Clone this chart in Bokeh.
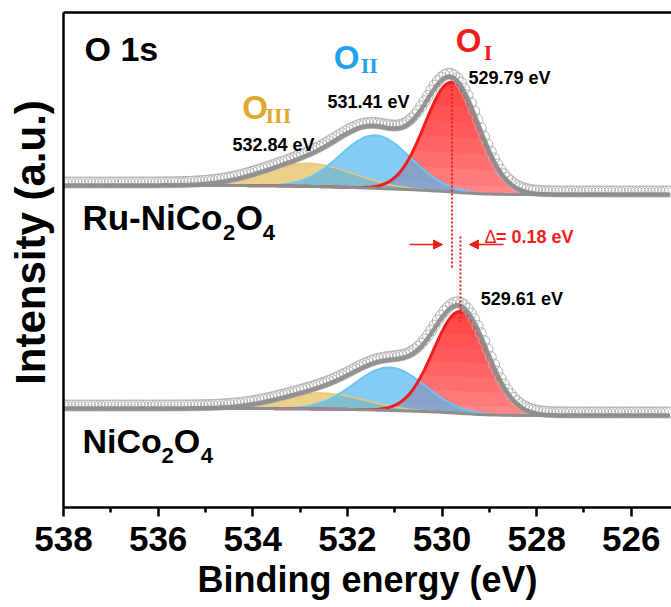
import numpy as np
from bokeh.plotting import figure
from bokeh.models import (Range1d, LinearAxis, FixedTicker, Label, Arrow,
                          NormalHead)
from bokeh.embed import file_html
from bokeh.resources import INLINE

# ---- data -------------------------------------------------------------
# binding-energy grid of the scan (eV)
e_start, e_stop, e_step = 538.0, 525.15, 0.07

# O 1s fitted components: O_I, O_II, O_III
ru_centers = [529.79, 531.41, 532.84]
ru_heights = [110.0, 53.0, 23.0]
ru_sigmas = [0.57, 0.74, 0.95]
ru_background = [322.0, 313.0]      # high-BE side, low-BE side

ni_centers = [529.61, 531.11, 532.55]
ni_heights = [102.0, 43.0, 16.0]
ni_sigmas = [0.57, 0.74, 0.90]
ni_background = [99.0, 92.0]

data_residual = 3.0                 # counts sit slightly above the fitted envelope

tick_values = [538, 536, 534, 532, 530, 528, 526]
minor_values = [537, 535, 533, 531, 529, 527, 525]

energy = np.arange(e_start, e_stop - 1e-9, -e_step)


def fit_curves(centers, heights, sigmas, background):
    comps = [h * np.exp(-(energy - c) ** 2 / (2 * s ** 2))
             for c, h, s in zip(centers, heights, sigmas)]
    total = np.sum(comps, axis=0)
    # Shirley-type step: cumulative area from the low binding-energy side
    area = np.cumsum(total[::-1])[::-1]
    frac = area / area[0]
    bg = background[1] + (background[0] - background[1]) * frac
    return comps, bg, bg + total


FONT = "Liberation Sans"
SERIF = "Liberation Serif"

p = figure(frame_width=608, frame_height=495, x_range=Range1d(538, 525.15),
           y_range=Range1d(0, 495), output_backend="svg",
           toolbar_location=None, min_border_left=63, min_border_right=0,
           min_border_top=12, min_border_bottom=0)
p.grid.visible = False
p.outline_line_color = None
p.background_fill_color = "white"
p.border_fill_color = "white"

RED = "#f21c1c"
BLUE = "#4cb6f0"
GOLD = "#e6bf62"
GREY = "#8e8e8e"


def draw_spectrum(centers, heights, sigmas, background):
    comps, bg, env = fit_curves(centers, heights, sigmas, background)
    red, blue, gold = comps
    # O_I with a vertical shade: light base, darker toward the apex
    p.varea(x=energy, y1=bg, y2=bg + red, fill_color="#ff7a7a", fill_alpha=0.9)
    for lvl in np.linspace(8, max(heights) - 8, 7):
        p.varea(x=energy, y1=bg + np.minimum(red, lvl), y2=bg + red,
                fill_color="#ff0000", fill_alpha=0.09)
    p.varea(x=energy, y1=bg, y2=bg + gold, fill_color=GOLD, fill_alpha=0.75)
    p.varea(x=energy, y1=bg, y2=bg + blue, fill_color=BLUE, fill_alpha=0.68)
    p.line(energy, bg + gold, line_color="#e9c874", line_width=1.5)
    p.line(energy, bg + blue, line_color="#6cc6f5", line_width=2)
    p.line(energy, bg + red, line_color=RED, line_width=3)
    p.scatter(energy, env + data_residual, size=11, marker="circle",
              fill_color=None, line_color="#b2b2b2", line_width=1)
    p.line(energy, env, line_color=GREY, line_width=4.5, line_alpha=0.95)
    p.line(energy, bg, line_color=GREY, line_width=3)


draw_spectrum(ru_centers, ru_heights, ru_sigmas, ru_background)
draw_spectrum(ni_centers, ni_heights, ni_sigmas, ni_background)

# peak-position markers and the shift between them
p.segment(x0=[ru_centers[0], ni_centers[0]], y0=[422, 271],
          x1=[ru_centers[0], ni_centers[0]], y1=[240, 185],
          line_color=RED, line_width=2, line_dash="2 2")
for xs, xe in [(530.685, 529.99), (528.70, 529.42)]:
    p.add_layout(Arrow(end=NormalHead(size=9, fill_color=RED, line_color=RED),
                       x_start=xs, y_start=263, x_end=xe, y_end=263,
                       line_color=RED, line_width=1.5))

# ---- axes -------------------------------------------------------------
xa = p.xaxis[0]
xa.ticker = FixedTicker(ticks=tick_values, minor_ticks=minor_values)
xa.axis_line_width = 2.5
xa.major_tick_line_width = 2.5
xa.minor_tick_line_width = 2.5
xa.major_tick_out = 9
xa.major_tick_in = 0
xa.minor_tick_out = 5
xa.minor_tick_in = 0
xa.major_label_text_font = FONT
xa.major_label_text_font_style = "bold"
xa.major_label_text_font_size = "35px"
xa.major_label_text_color = "black"
xa.major_label_standoff = 10
xa.axis_label = "Binding energy (eV)"
xa.axis_label_text_font = FONT
xa.axis_label_text_font_style = "bold"
xa.axis_label_text_font_size = "36px"
xa.axis_label_text_color = "black"
xa.axis_label_standoff = 5

ya = p.yaxis[0]
ya.ticker = FixedTicker(ticks=[], minor_ticks=[])
ya.axis_line_width = 2.5
ya.major_tick_line_color = None
ya.minor_tick_line_color = None
ya.major_label_text_font_size = "0px"
ya.axis_label = "\u00a0\u00a0\u00a0Intensity (a.u.)"
ya.axis_label_text_font = FONT
ya.axis_label_text_font_style = "bold"
ya.axis_label_text_font_size = "42px"
ya.axis_label_text_color = "black"
ya.axis_label_standoff = 10

top = LinearAxis(ticker=FixedTicker(ticks=[], minor_ticks=[]),
                 axis_line_width=2.5, major_label_text_font_size="0px",
                 major_tick_line_color=None, minor_tick_line_color=None)
p.add_layout(top, "above")


def label(x, y, text, size, color="black", font=FONT, style="bold", **kw):
    p.add_layout(Label(x=x, y=y, text=text, text_font=font,
                       text_font_style=style, text_font_size=size,
                       text_color=color, text_baseline="alphabetic", **kw))


label(537.556, 459, "O 1s", "34px")

# component names
label(529.712, 467, "O", "33px", color=RED)
label(529.12, 455, "I", "22px", color=RED, font=SERIF)
label(532.29, 450, "O", "33px", color="#1ea3ec")
label(531.72, 442, "II", "22px", color="#1ea3ec", font=SERIF)
label(534.22, 400, "O", "33px", color="#e0a92e")
label(533.73, 392, "III", "22px", color="#e0a92e", font=SERIF)

# binding energies
label(529.44, 430, "529.79 eV", "18px")
label(532.42, 406, "531.41 eV", "18px")
label(534.43, 363, "532.84 eV", "18px")
label(529.18, 209, "529.61 eV", "18px")
label(529.10, 271, "\u0394", "18px", color=RED, style="normal")
label(528.86, 271, "= 0.18 eV", "18px", color=RED)

# sample names
label(537.60, 290, "Ru-NiCo", "35px")
label(534.63, 275, "2", "22px")
label(534.36, 290, "O", "35px")
label(533.79, 275, "4", "22px")
label(537.60, 67, "NiCo", "34px")
label(535.93, 52, "2", "22px")
label(535.67, 67, "O", "34px")
label(535.10, 52, "4", "22px")

open("out.html", "w").write(file_html(p, INLINE))
